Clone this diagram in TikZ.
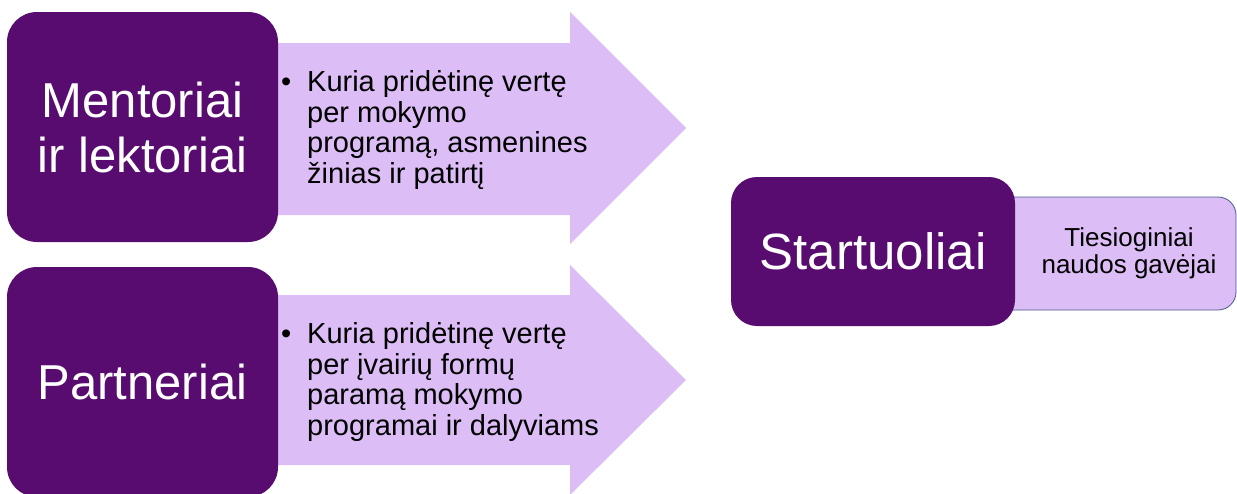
\documentclass[tikz,border=0pt]{standalone}
\usepackage{fontspec}
\setmainfont{Liberation Sans}
\definecolor{dpurple}{RGB}{88,12,112}
\definecolor{lpurple}{RGB}{221,189,246}
\definecolor{edgeblue}{RGB}{70,90,140}
\tikzset{
  darkbox/.style={fill=dpurple, rounded corners=30pt, text=white, align=center, inner sep=0pt},
  arrowshape/.style={fill=lpurple, draw=none},
  bullettext/.style={anchor=north west, align=left, font=\fontsize{29}{30.5}\selectfont, inner sep=0pt, text=black},
}
\begin{document}
\begin{tikzpicture}[x=1pt,y=-1pt]
\useasboundingbox (0,0) rectangle (1237,493);
% top arrow
\fill[arrowshape] (260,43) -- (570,43) -- (570,12) -- (686,128) -- (570,244) -- (570,215) -- (260,215) -- cycle;
% bottom arrow
\fill[arrowshape] (260,295) -- (570,295) -- (570,265) -- (686,380) -- (570,495) -- (570,465) -- (260,465) -- cycle;
% boxes
\node[darkbox, minimum width=271pt, minimum height=230pt, font=\fontsize{49}{55}\selectfont] (m) at (142.5,127) {Mentoriai\\ir lektoriai};
\node[darkbox, minimum width=271pt, minimum height=230pt, font=\fontsize{49}{55}\selectfont] (p) at (142.5,382) {Partneriai};
\node[bullettext] (mt) at (281,70) {\makebox[26pt][l]{\textbullet}\begin{tabular}[t]{@{}l@{}}Kuria pridėtinę vertę\\per mokymo\\programą, asmenines\\žinias ir patirtį\end{tabular}};
\node[bullettext] (pt) at (281,322) {\makebox[26pt][l]{\textbullet}\begin{tabular}[t]{@{}l@{}}Kuria pridėtinę vertę\\per įvairių formų\\paramą mokymo\\programai ir dalyviams\end{tabular}};
% startuoliai
\draw[fill=lpurple, draw=edgeblue, line width=0.8pt, rounded corners=18pt] (990,197) rectangle (1236,310);
\node[align=center, font=\fontsize{26}{27}\selectfont] (tg) at (1129,253) {Tiesioginiai\\naudos gavėjai};
\node[darkbox, rounded corners=26pt, minimum width=284pt, minimum height=149pt, font=\fontsize{51}{55}\selectfont] (s) at (873,251.5) {Startuoliai};
\end{tikzpicture}
\end{document}
